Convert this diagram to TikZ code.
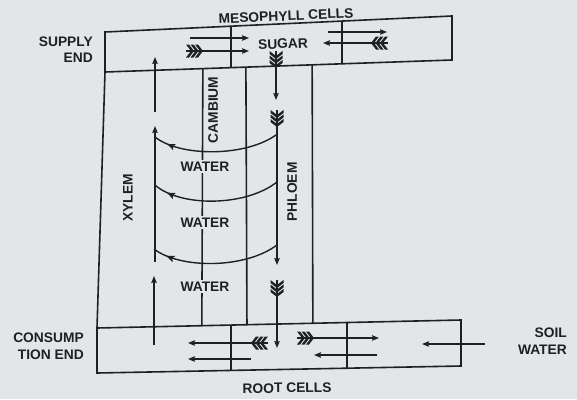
\documentclass[tikz,border=0pt]{standalone}
\usepackage{fontspec}
\setmainfont{Liberation Sans}
\usetikzlibrary{arrows.meta,calc,decorations.markings}
\definecolor{paper}{RGB}{226,230,232}
\definecolor{ink}{RGB}{30,33,36}
\tikzset{
  ln/.style={draw=ink, line width=1.6pt, line join=miter},
  tip/.style={-{Stealth[length=7pt,width=5.5pt,inset=1.2pt]}},
  arr/.style={draw=ink, line width=1.4pt, tip},
  lbl/.style={font=\fontsize{13.8}{16}\selectfont\bfseries, text=ink, inner sep=1pt},
  wlbl/.style={lbl, fill=paper, inner sep=2pt},
  midarr/.style={draw=ink, line width=1.4pt, postaction={decorate},
    decoration={markings, mark=at position 0.89 with {\arrow{Stealth[length=8pt,width=6.5pt,inset=1.5pt]}}}},
  fletch/.pic={
    \foreach \i in {5,9.5,14} {
      \fill[ink] (\i,0) -- (\i-5,-6.5) -- (\i-2,-6.5) -- (\i+3,0) -- (\i-2,6.5) -- (\i-5,6.5) -- cycle;
    }
  },
}
\begin{document}
\begin{tikzpicture}[x=1pt,y=-1pt]
\fill[paper] (0,0) rectangle (577,399);
\useasboundingbox (0,0) rectangle (577,399);

% ---- top box (mesophyll cells)
\coordinate (TL) at (105,32);
\coordinate (TR) at (452,16);
\coordinate (BR) at (452,60);
\coordinate (BL) at (105,72);
\draw[ln] (TL) -- (TR) -- (BR) -- (BL) -- cycle;
\draw[ln] ($(TL)!0.363!(TR)$) -- ($(BL)!0.363!(BR)$);
\draw[ln] ($(TL)!0.683!(TR)$) -- ($(BL)!0.683!(BR)$);

% ---- bottom box (root cells)
\coordinate (bTL) at (97,328);
\coordinate (bTR) at (461,320);
\coordinate (bBR) at (461,366);
\coordinate (bBL) at (97,373);
\draw[ln] (bTL) -- (bTR) -- (bBR) -- (bBL) -- cycle;
\draw[ln] ($(bTL)!0.368!(bTR)$) -- ($(bBL)!0.368!(bBR)$);
\draw[ln] ($(bTL)!0.687!(bTR)$) -- ($(bBL)!0.687!(bBR)$);

% ---- stem lines
\draw[ln] (BL) -- (bTL);
\draw[ln] ($(BL)!0.282!(BR)$) -- ($(bTL)!0.288!(bTR)$);
\draw[ln] ($(BL)!0.406!(BR)$) -- ($(bTL)!0.412!(bTR)$);
\draw[ln] ($(BL)!0.597!(BR)$) -- ($(bTL)!0.593!(bTR)$);

% ---- labels
\node[lbl, rotate=2.6] (meso) at (286,16) {MESOPHYLL CELLS};
\node[lbl, anchor=east] (sup1) at (94,42) {SUPPLY};
\node[lbl, anchor=east] (sup2) at (94,57.5) {END};
\node[lbl, rotate=2.5] (sugar) at (283,44) {SUGAR};
\node[lbl, rotate=90] (camb) at (213,110) {CAMBIUM};
\node[lbl, rotate=90] (xyl) at (128,198) {XYLEM};
\node[lbl, rotate=90] (phl) at (292,192) {PHLOEM};
\node[wlbl] (w1) at (205,166.5) {WATER};
\node[wlbl] (w2) at (205,222.5) {WATER};
\node[wlbl] (w3) at (205,286.5) {WATER};
\node[lbl, anchor=east] (con1) at (85,338) {CONSUMP};
\node[lbl, anchor=east] (con2) at (85,355) {TION END};
\node[lbl, rotate=0.8] (root) at (287,388) {ROOT CELLS};
\node[lbl, anchor=east] (soil1) at (568,333) {SOIL};
\node[lbl, anchor=east] (soil2) at (568,350) {WATER};

% ---- top box arrows
\draw[arr] (190,38) -- (249,38);
\draw[arr] (186,51) -- (249,51);
\pic at (186,51) {fletch};
\draw[arr] (328,32) -- (387,32);
\draw[arr] (388,43) -- (323,43);
\pic[rotate=180] at (388,43) {fletch};

% ---- xylem (upward)
\draw[arr] (155,112) -- (155,57);
\draw[arr] (155,262) -- (155,126);
\draw[arr] (154,345) -- (154,276);

% ---- phloem (downward)
\draw[arr] (276,51) -- (276,100);
\pic[rotate=-90] at (276,51) {fletch};
\draw[arr] (277,110) -- (277,265);
\pic[rotate=-90] at (277,110) {fletch};
\draw[arr] (277,280) -- (277,348);
\pic[rotate=-90] at (277,280) {fletch};

% ---- water from phloem to xylem
\draw[midarr] (276,135) .. controls (245,157) and (180,157) .. (155,137);
\draw[midarr] (277,182) .. controls (245,207) and (180,207) .. (155,185);
\draw[midarr] (277,245) .. controls (245,269) and (180,269) .. (154,249);

% ---- bottom box arrows
\draw[arr] (268,343) -- (188,343);
\pic[rotate=180] at (268,343) {fletch};
\draw[arr] (251,359) -- (188,359);
\draw[arr] (297,338) -- (379,338);
\pic at (297,338) {fletch};
\draw[arr] (377,355) -- (314,355);
\draw[arr] (485,344) -- (422,344);
\end{tikzpicture}
\end{document}
